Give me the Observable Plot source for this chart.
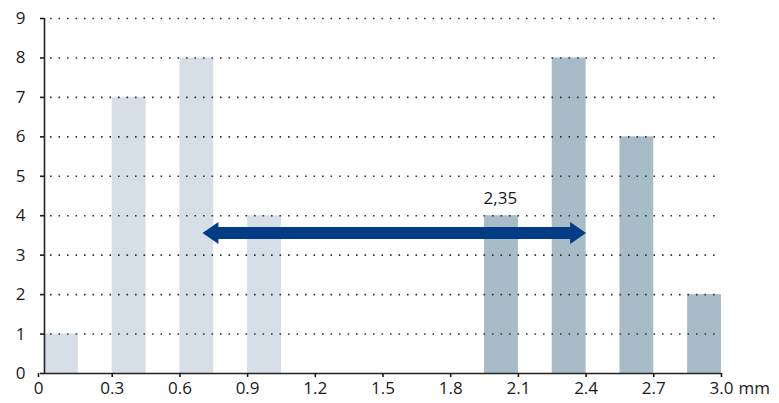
<!DOCTYPE html>
<html>
<head>
<meta charset="utf-8">
<script src="https://cdn.jsdelivr.net/npm/d3@7"></script>
<script src="https://cdn.jsdelivr.net/npm/@observablehq/plot@0.6"></script>
<style>
  html, body { margin: 0; padding: 0; background: #fff; }
  svg { display: block; }
</style>
</head>
<body>
<div id="chart"></div>
<script>
// Data
const lightBinStart = [0, 0.3, 0.6, 0.9];
const lightBinEnd   = [0.15, 0.45, 0.75, 1.05];
const lightCounts   = [1, 7, 8, 4];

const darkBinStart = [1.95, 2.25, 2.55, 2.85];
const darkBinEnd   = [2.1, 2.4, 2.7, 3.0];
const darkCounts   = [4, 8, 6, 2];

const xTicks = [0, 0.3, 0.6, 0.9, 1.2, 1.5, 1.8, 2.1, 2.4, 2.7, 3.0];
const yTicks = [0, 1, 2, 3, 4, 5, 6, 7, 8, 9];

const arrowFrom = [0.70];
const arrowTo   = [2.40];
const arrowLevel = [3.56];

const annotText = ["2,35"];
const annotX = [2.02];
const annotY = [4.44];

const unitLabel = ["mm"];

// Tables
const light = lightBinStart.map((s, i) => ({x1: s, x2: lightBinEnd[i], v: lightCounts[i]}));
const dark  = darkBinStart.map((s, i) => ({x1: s, x2: darkBinEnd[i], v: darkCounts[i]}));
const arrow = arrowFrom.map((a, i) => ({x1: a, x2: arrowTo[i], y: arrowLevel[i]}));
const annot = annotText.map((t, i) => ({t, x: annotX[i], y: annotY[i]}));

const headRight = {draw(ctx) { ctx.moveTo(0, 0); ctx.lineTo(-16, -11); ctx.lineTo(-16, 11); ctx.closePath(); }};
const headLeft  = {draw(ctx) { ctx.moveTo(0, 0); ctx.lineTo(16, -11); ctx.lineTo(16, 11); ctx.closePath(); }};

const arrowColor = "#013c84";
const textColor = "#1a1a1a";
const fs = 17;
const font = "'Open Sans', sans-serif";

const chart = Plot.plot({
  width: 779,
  height: 403,
  marginLeft: 44,
  marginRight: 58,
  marginTop: 18,
  marginBottom: 30,
  style: {fontFamily: font, fontSize: fs + "px", color: textColor, background: "#fff"},
  x: {domain: [0, 3]},
  y: {domain: [0, 9]},
  marks: [
    Plot.rectY(light, {x1: "x1", x2: "x2", y: "v", fill: "#d6dfe7"}),
    Plot.rectY(dark, {x1: "x1", x2: "x2", y: "v", fill: "#a7bcc7"}),
    Plot.ruleY(yTicks.slice(1), {x1: 0, x2: 3, stroke: "#333", strokeWidth: 1.6, strokeDasharray: "1.6 6.9", insetLeft: 6}),
    Plot.ruleX([0], {y1: 0, y2: 9, stroke: "#222", strokeWidth: 1.6}),
    Plot.ruleY([0], {x1: 0, x2: 3, stroke: "#222", strokeWidth: 1.6}),
    Plot.axisY({ticks: yTicks, tickSize: 4, tickPadding: 15, strokeWidth: 1.6, label: null, fontSize: fs, fontFamily: font, fill: textColor, tickFormat: d => String(d)}),
    Plot.axisX({ticks: xTicks.slice(1), tickSize: 4, tickPadding: 4, strokeWidth: 1.6, label: null, fontSize: fs, fontFamily: font, fill: textColor, tickFormat: d => d.toFixed(1)}),
    Plot.axisX({ticks: [0], tickSize: 4, tickPadding: 4, strokeWidth: 1.6, label: null, fontSize: fs, fontFamily: font, fill: textColor, tickFormat: () => "0", dx: -6}),
    Plot.text(unitLabel, {x: 3, y: 0, text: d => d, dx: 17, dy: 8, lineAnchor: "top", textAnchor: "start", fill: textColor, fontSize: fs, fontFamily: font}),
    Plot.ruleY(arrow, {x1: "x1", x2: "x2", y: "y", stroke: arrowColor, strokeWidth: 12, insetLeft: 15, insetRight: 15}),
    Plot.dot(arrow, {x: "x2", y: "y", symbol: headRight, fill: arrowColor, stroke: "none"}),
    Plot.dot(arrow, {x: "x1", y: "y", symbol: headLeft, fill: arrowColor, stroke: "none"}),
    Plot.text(annot, {x: "x", y: "y", text: "t", fill: textColor, fontSize: fs, fontFamily: font})
  ]
});
document.getElementById("chart").appendChild(chart);
</script>
</body>
</html>
